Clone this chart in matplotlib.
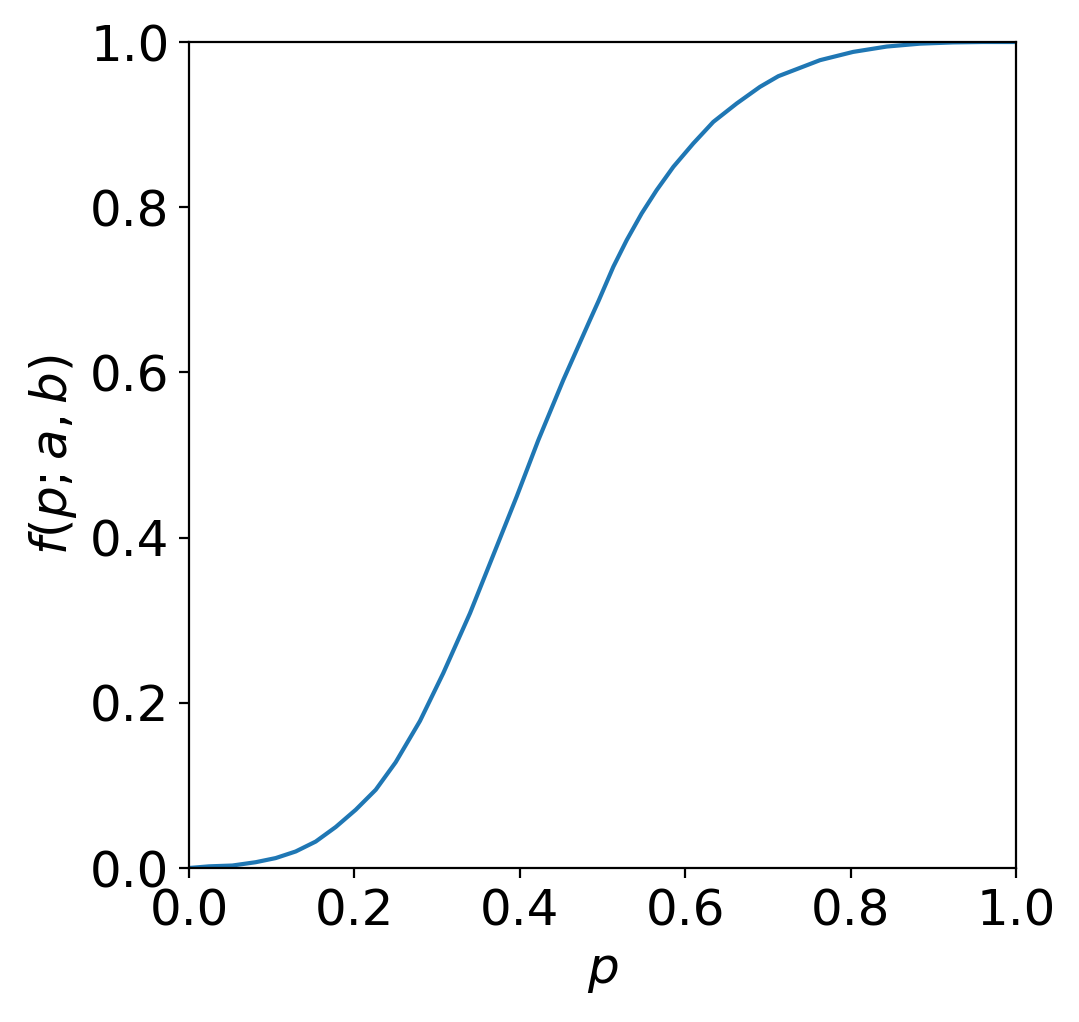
import matplotlib
matplotlib.use("Agg")
import matplotlib.pyplot as plt

# values
p_vals = [0.0, 0.0242, 0.0524, 0.0806, 0.1048, 0.129, 0.1532, 0.1774,
          0.2016, 0.2258, 0.2499, 0.2793, 0.3075, 0.3398, 0.372, 0.3962,
          0.4224, 0.4526, 0.4849, 0.495, 0.5131, 0.5293, 0.5474, 0.5655,
          0.5857, 0.6098, 0.634, 0.6623, 0.6904, 0.7126, 0.763, 0.803,
          0.8437, 0.884, 0.924, 0.96, 1.0]
f_vals = [0.0, 0.002, 0.003, 0.007, 0.012, 0.020, 0.032, 0.0496,
          0.0705, 0.0947, 0.128, 0.178, 0.236, 0.3085, 0.389, 0.4496,
          0.518, 0.5908, 0.6636, 0.686, 0.7279, 0.7602, 0.7925, 0.8207,
          0.8489, 0.8772, 0.9033, 0.9256, 0.9457, 0.9586, 0.978, 0.988,
          0.9945, 0.998, 0.9995, 1.0, 1.0]

ticks = [0.0, 0.2, 0.4, 0.6, 0.8, 1.0]

fig = plt.figure(figsize=(10.79 / 2, 10.22 / 2), dpi=200)
ax = fig.add_axes([189 / 1079, 1 - 868 / 1022, (1016 - 189) / 1079, (868 - 42) / 1022])
ax.plot(p_vals, f_vals, color='#1f77b4', lw=1.5)

ax.set_xlim(0, 1)
ax.set_ylim(0, 1)
ax.set_xticks(ticks)
ax.set_yticks(ticks)
ax.tick_params(labelsize=18)
ax.set_xlabel('$p$', fontsize=18)
ax.set_ylabel('$f(p; a, b)$', fontsize=18)

fig.savefig('out.png', dpi=200)
